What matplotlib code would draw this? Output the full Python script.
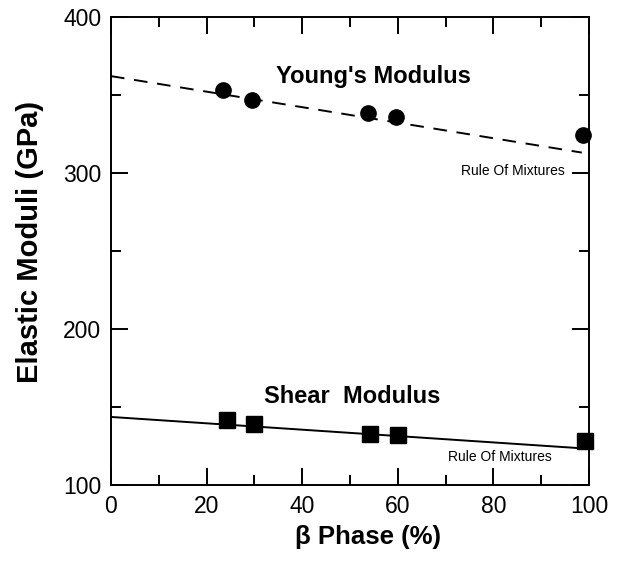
import matplotlib.pyplot as plt
from matplotlib.ticker import MultipleLocator

plt.rcParams['font.family'] = ['Liberation Sans', 'DejaVu Sans']

beta_young = [23.5, 29.5, 53.8, 59.7, 98.8]
young = [353, 347, 338.5, 336, 324]
beta_shear = [24.2, 30.0, 54.2, 60.0, 99.2]
shear = [141.5, 139, 132.5, 132, 128.5]

rom_x = [0, 98.5]
rom_young = [362, 313]
rom_shear = [143.6, 123.5]

fig = plt.figure(figsize=(6.2, 5.61), dpi=100)
ax = fig.add_axes([0.179, 0.1355, 0.771, 0.8345])

ax.plot(rom_x, rom_young, color='black', lw=1.4, dashes=(7, 5))
ax.plot(rom_x, rom_shear, color='black', lw=1.4)
ax.plot(beta_young, young, 'o', color='black', ms=11, clip_on=False, zorder=5)
ax.plot(beta_shear, shear, 's', color='black', ms=11, clip_on=False, zorder=5)

ax.text(55, 362, "Young's Modulus", fontsize=17, fontweight='bold', ha='center', va='center')
ax.text(50.5, 156.5, "Shear  Modulus", fontsize=17, fontweight='bold', ha='center', va='center')
ax.text(95, 301.5, "Rule Of Mixtures", fontsize=10, ha='right', va='center')
ax.text(92.3, 118, "Rule Of Mixtures", fontsize=10, ha='right', va='center')

ax.set_xlim(0, 100)
ax.set_ylim(100, 400)
ax.xaxis.set_major_locator(MultipleLocator(20))
ax.xaxis.set_minor_locator(MultipleLocator(10))
ax.yaxis.set_major_locator(MultipleLocator(100))
ax.yaxis.set_minor_locator(MultipleLocator(50))
ax.tick_params(which='both', direction='in', top=True, right=True, width=1.4, labelsize=16.5)
ax.tick_params(which='major', length=12, pad=7)
ax.tick_params(which='minor', length=7)
for s in ax.spines.values():
    s.set_linewidth(1.4)

ax.set_xlabel('β Phase (%)', fontsize=18.5, fontweight='bold')
ax.set_ylabel('Elastic Moduli (GPa)', fontsize=21, fontweight='bold')
ax.xaxis.set_label_coords(0.538, -0.085)
ax.yaxis.set_label_coords(-0.14, 0.519)

fig.savefig('out.png', dpi=100)
